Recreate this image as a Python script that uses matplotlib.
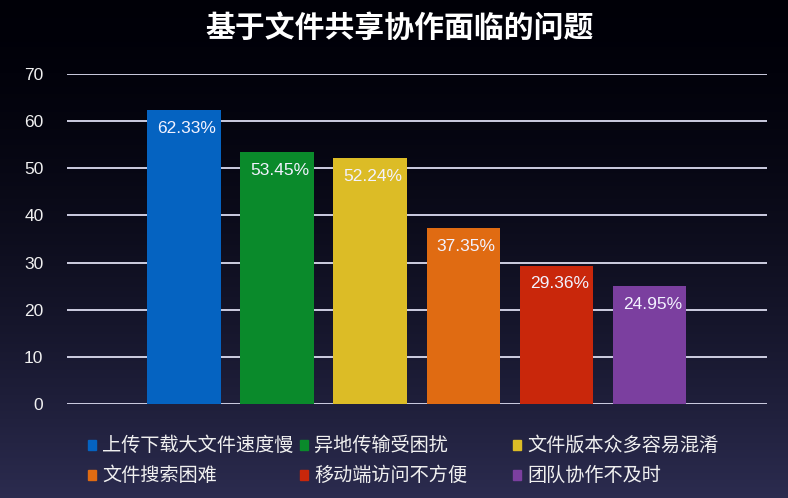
import numpy as np
import matplotlib
matplotlib.use("Agg")
import matplotlib.pyplot as plt
from matplotlib.patches import Rectangle

plt.rcParams['font.family'] = ['Noto Sans CJK SC', 'DejaVu Sans']

categories = ['上传下载大文件速度慢', '异地传输受困扰', '文件版本众多容易混淆',
              '文件搜索困难', '移动端访问不方便', '团队协作不及时']
values = [62.33, 53.45, 52.24, 37.35, 29.36, 24.95]
colors = ['#0563c1', '#0a8a2b', '#dcbc26', '#e06b12', '#c9270b', '#7b3f9f']
yticks = [0, 10, 20, 30, 40, 50, 60, 70]

fig = plt.figure(figsize=(7.88, 4.98), dpi=100)

# background gradient: black at top, dark navy at the bottom
bg = fig.add_axes([0, 0, 1, 1], zorder=-10)
t = np.linspace(0, 1, 256) ** 1.6
top = np.array([0.0, 0.0, 0.03])
bottom = np.array([0.17, 0.17, 0.31])
grad = top[None, :] * (1 - t[:, None]) + bottom[None, :] * t[:, None]
bg.imshow(grad[:, None, :], aspect='auto', extent=[0, 1, 0, 1])
bg.axis('off')

ax = fig.add_axes([67/788, 1 - 404/498, 700/788, 330/498])
ax.patch.set_alpha(0)
x = np.arange(len(values))
bars = ax.bar(x, values, width=0.79, color=colors, zorder=3)
for xi, v in zip(x, values):
    ax.text(xi + 0.03, v - 3.9, f'{v:.2f}%', ha='center', va='center',
            color='#f2f2ff', fontsize=12.5, family='Liberation Sans', zorder=4)

ax.set_ylim(0, 70)
ax.set_xlim(-1.258, 6.263)
ax.set_yticks(yticks)
ax.set_xticks([])
ax.yaxis.grid(True, color='#dcdcf0', linewidth=1.3, zorder=1)
ax.tick_params(axis='y', length=0, pad=17, labelcolor='#f0f0f0', labelsize=12.5)
for lbl in ax.get_yticklabels():
    lbl.set_family('Liberation Sans')
for s in ax.spines.values():
    s.set_visible(False)

fig.text(0.507, 1 - 28/498, '基于文件共享协作面临的问题', ha='center', va='center',
         color='white', fontsize=21.5, fontweight='heavy')

# legend, two rows of three
col_x = [88, 300, 513]
row_y = [445, 475]
for i, (name, c) in enumerate(zip(categories, colors)):
    px = col_x[i % 3]
    py = row_y[i // 3]
    fig.patches.append(Rectangle((px/788, (498 - py - 5)/498), 8/788, 10/498,
                                 transform=fig.transFigure, color=c, figure=fig))
    fig.text((px + 14)/788, 1 - py/498, name, ha='left', va='center',
             color='#f0f0f0', fontsize=13.8)

fig.savefig('out.png', dpi=100)
